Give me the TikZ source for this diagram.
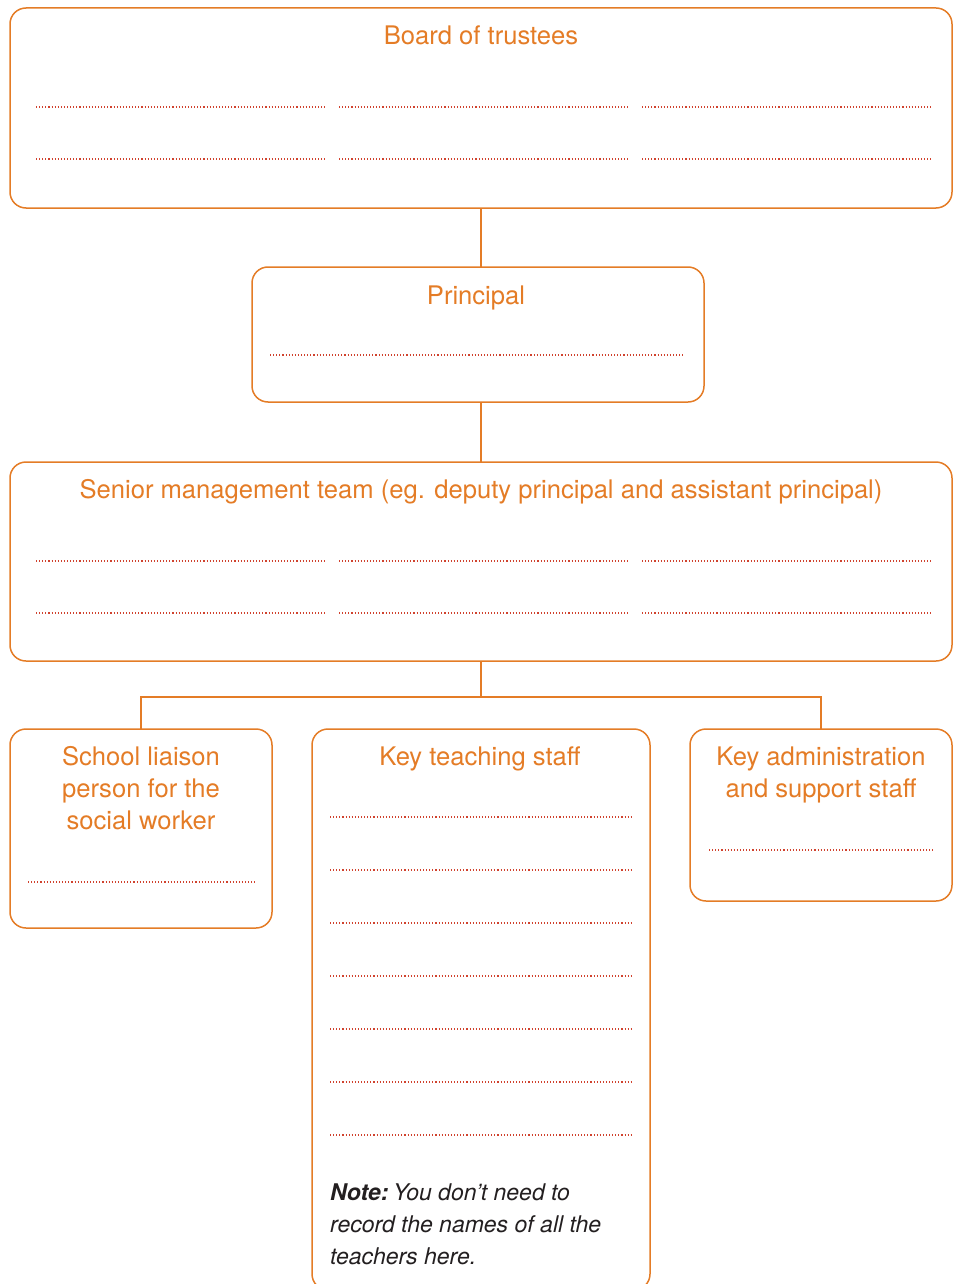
\documentclass[tikz,border=0pt]{standalone}
\usepackage{fontspec}
\setmainfont{TeX Gyre Heros}
\definecolor{chartorange}{RGB}{228,124,38}
\definecolor{fillred}{RGB}{208,66,46}
\definecolor{notegray}{RGB}{35,31,32}
\begin{document}
\begin{tikzpicture}[x=1pt,y=-1pt,
  box/.style={draw=chartorange, line width=1.5pt, rounded corners=16pt,
    inner sep=0pt, outer sep=0pt, anchor=north west},
  heading/.style={text=chartorange, font=\fontsize{25.6}{32}\selectfont,
    align=center, inner sep=0pt, anchor=base},
  link/.style={draw=chartorange, line width=1.8pt},
  writeline/.style={draw=fillred, line width=1.1pt, dash pattern=on 1.1pt off 2pt}]
\clip (0,0) rectangle (960,1284);

% boxes
\node[box, minimum width=942pt, minimum height=200pt] (board) at (10,8) {};
\node[box, minimum width=452pt, minimum height=135pt] (principal) at (252,267) {};
\node[box, minimum width=942pt, minimum height=199pt] (senior) at (10,462) {};
\node[box, minimum width=262pt, minimum height=199pt] (liaison) at (10,729) {};
\node[box, minimum width=338pt, minimum height=561pt] (teaching) at (312,729) {};
\node[box, minimum width=262pt, minimum height=172pt] (admin) at (690,729) {};

% headings (base anchor sits on the last line)
\node[heading] (boardtitle) at (481,45) {Board of trustees};
\node[heading] (principaltitle) at (476,304) {Principal};
\node[heading] (seniortitle) at (481,498) {Senior management team (eg. deputy principal and assistant principal)};
\node[heading] (liaisontitle) at (141,829) {School liaison\\person for the\\social worker};
\node[heading] (teachingtitle) at (480,765) {Key teaching staff};
\node[heading] (admintitle) at (821,797) {Key administration\\and support staff};

% note
\node[anchor=base west, align=left, inner sep=0pt, text=notegray,
  font=\itshape\fontsize{23}{32}\selectfont] (note) at (330,1264)
  {\textbf{Note:}\hspace{0.2em}You don’t need to\\record the names of all the\\teachers here.};

% connectors
\draw[link] (board.south) -- (board.south |- principal.north);
\draw[link] (board.south |- principal.south) -- (board.south |- senior.north);
\draw[link] (senior.south) -- ++(0,36) coordinate (branch);
\draw[link] (liaison.north) |- (branch) -| (admin.north);

% write-in lines
\foreach \y in {107,159,561,613} {
  \draw[writeline] (36,\y) -- (325,\y);
  \draw[writeline] (339,\y) -- (628,\y);
  \draw[writeline] (642,\y) -- (932,\y);
}
\draw[writeline] (270,355) -- (684,355);
\draw[writeline] (28,882) -- (255,882);
\draw[writeline] (709,850) -- (935,850);
\foreach \y in {817,870,923,976,1029,1082,1135} {
  \draw[writeline] (330,\y) -- (632,\y);
}
\end{tikzpicture}
\end{document}
